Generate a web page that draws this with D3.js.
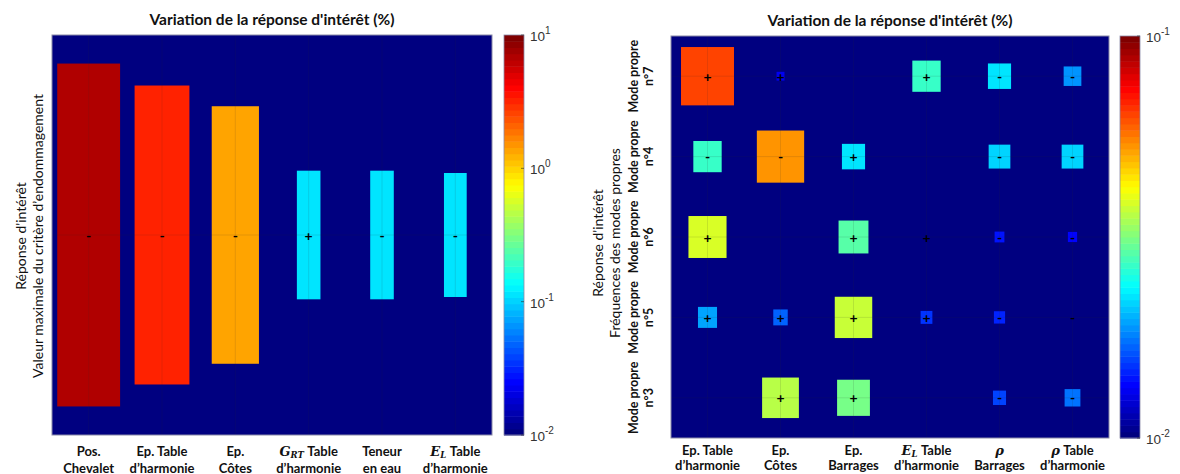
<!DOCTYPE html>
<html>
<head>
<meta charset="utf-8">
<script src="https://cdn.jsdelivr.net/npm/d3@7"></script>
<style>
  body { margin: 0; background: #fff; }
  text { font-family: Lato, "Open Sans", sans-serif; }
</style>
</head>
<body>
<svg id="chart" width="1180" height="474"></svg>
<script>
// ---- data ----
var titleText = "Variation de la réponse d'intérêt (%)";

// left panel: one row, six parameters
var leftCats = ["Pos.|Chevalet", "Ep. Table|d’harmonie", "Ep.|Côtes", "$G_{RT}$ Table|d’harmonie", "Teneur|en eau", "$E_{L}$ Table|d’harmonie"];
var leftRows = [""];
var leftValues = [[7.2, 3.1, 1.4, 0.118, 0.118, 0.108]];
var leftSigns = [["-", "-", "-", "+", "-", "-"]];
var leftTicks = [0.01, 0.1, 1, 10];
var leftYLabel = ["Réponse d'intérêt", "Valeur maximale du critère d’endommagement"];

// right panel: five modes x six parameters
var rightCats = ["Ep. Table|d’harmonie", "Ep.|Côtes", "Ep.|Barrages", "$E_{L}$ Table|d’harmonie", "$ρ$|Barrages", "$ρ$ Table|d’harmonie"];
var rightRows = ["Mode propre|n°7", "Mode propre|n°4", "Mode propre|n°6", "Mode propre|n°5", "Mode propre|n°3"];
var rightValues = [
  [0.0640, 0.0132, null,   0.0270, 0.0225, 0.0186],
  [0.0270, 0.0525, 0.0225, null,   0.0214, 0.0214],
  [0.0380, null,   0.0285, 0.0107, 0.0141, 0.0138],
  [0.0195, 0.0166, 0.0372, 0.0151, 0.0148, 0.0105],
  [null,   0.0363, 0.0316, null,   0.0158, 0.0174]
];
var rightSigns = [
  ["+", "+", "",  "+", "-", "-"],
  ["-", "-", "+", "",  "-", "-"],
  ["+", "",  "+", "+", "-", "-"],
  ["+", "+", "+", "+", "-", "-"],
  ["",  "+", "+", "",  "-", "-"]
];
var rightTicks = [0.01, 0.1];
var rightYLabel = ["Réponse d'intérêt", "Fréquences des modes propres"];

// ---- MATLAB jet colormap ----
function jet(t) {
  var c = function(v) { return Math.max(0, Math.min(1, v)); };
  var r = c(1.5 - Math.abs(4 * t - 3)),
      g = c(1.5 - Math.abs(4 * t - 2)),
      b = c(1.5 - Math.abs(4 * t - 1));
  return d3.rgb(r * 255, g * 255, b * 255).toString();
}
function jetq(t) {
  var i = Math.max(0, Math.min(63, Math.floor(t * 64)));
  return jet(i / 63);
}

var svg = d3.select("#chart");

// writes a label line, with $X_{sub}$ parts set in italic serif
function richLine(sel, str) {
  var parts = str.split(/(\$[^$]+\$)/);
  parts.forEach(function(p) {
    if (!p) return;
    if (p[0] == "$") {
      var m = p.slice(1, -1).match(/^([^_]+)(?:_\{(.+)\})?$/);
      sel.append("tspan").text(m[1])
        .style("font-family", "'DejaVu Serif', 'Liberation Serif', serif")
        .style("font-style", "italic").style("font-weight", "bold");
      if (m[2]) {
        sel.append("tspan").text(m[2]).attr("dy", 2)
          .style("font-family", "'DejaVu Serif', 'Liberation Serif', serif")
          .style("font-style", "italic").style("font-weight", "bold")
          .style("font-size", "8.5px");
        sel.append("tspan").text("\u200a").attr("dy", -2);
      }
    } else {
      sel.append("tspan").text(p);
    }
  });
}

function panel(o) {
  var x = d3.scaleBand().domain(o.cats).range([o.x0, o.x1]);
  var y = d3.scaleBand().domain(o.rows).range([o.y0, o.y1]);
  var t = d3.scaleLog().domain([o.ticks[0], o.ticks[o.ticks.length - 1]]).range([0, 1]).clamp(true);
  var g = svg.append("g");

  g.append("rect").attr("x", o.x0).attr("y", o.y0)
    .attr("width", o.x1 - o.x0).attr("height", o.y1 - o.y0)
    .attr("fill", jet(0));

  var cells = [];
  o.values.forEach(function(row, ri) {
    row.forEach(function(v, ci) {
      cells.push({ r: o.rows[ri], c: o.cats[ci], v: v, s: o.signs[ri][ci] });
    });
  });
  var filled = cells.filter(function(d) { return d.v != null; });

  g.selectAll("rect.cell").data(filled).enter().append("rect")
    .attr("class", "cell")
    .attr("x", function(d) { return x(d.c) + x.bandwidth() * (1 - 0.9 * t(d.v)) / 2; })
    .attr("y", function(d) { return y(d.r) + y.bandwidth() * (1 - 0.9 * t(d.v)) / 2; })
    .attr("width", function(d) { return x.bandwidth() * 0.9 * t(d.v); })
    .attr("height", function(d) { return y.bandwidth() * 0.9 * t(d.v); })
    .attr("fill", function(d) { return jetq(t(d.v)); });

  // faint grid through the cell centres
  g.selectAll("line.gx").data(o.cats).enter().append("line")
    .attr("x1", function(d) { return x(d) + x.bandwidth() / 2; })
    .attr("x2", function(d) { return x(d) + x.bandwidth() / 2; })
    .attr("y1", o.y0).attr("y2", o.y1)
    .attr("stroke", "#262626").attr("stroke-opacity", 0.12);
  g.selectAll("line.gy").data(o.rows).enter().append("line")
    .attr("y1", function(d) { return y(d) + y.bandwidth() / 2; })
    .attr("y2", function(d) { return y(d) + y.bandwidth() / 2; })
    .attr("x1", o.x0).attr("x2", o.x1)
    .attr("stroke", "#262626").attr("stroke-opacity", 0.12);

  g.selectAll("text.sign").data(filled).enter().append("text")
    .attr("class", "sign")
    .attr("x", function(d) { return x(d.c) + x.bandwidth() / 2; })
    .attr("y", function(d) { return y(d.r) + y.bandwidth() / 2; })
    .attr("text-anchor", "middle").attr("dominant-baseline", "central")
    .style("font-size", "14px").style("font-weight", "bold")
    .attr("fill", "#000")
    .text(function(d) { return d.s; });

  g.append("rect").attr("x", o.x0).attr("y", o.y0)
    .attr("width", o.x1 - o.x0).attr("height", o.y1 - o.y0)
    .attr("fill", "none").attr("stroke", "#8a8aa8").attr("stroke-width", 1);

  // title
  svg.append("text").attr("x", (o.x0 + o.x1) / 2).attr("y", o.y0 - 10)
    .attr("text-anchor", "middle")
    .style("font-size", "15.5px").style("font-weight", "bold").attr("fill", "#111")
    .text(titleText);

  // x labels
  o.cats.forEach(function(c) {
    c.split("|").forEach(function(line, li) {
      var tx = svg.append("text")
        .attr("x", x(c) + x.bandwidth() / 2)
        .attr("y", o.y1 + o.xly + li * o.xls)
        .attr("text-anchor", "middle")
        .style("font-size", "13px").style("font-weight", "bold").attr("fill", "#111");
      richLine(tx, line);
    });
  });

  // row labels (rotated)
  o.rows.forEach(function(r) {
    if (!r) return;
    var cy = y(r) + y.bandwidth() / 2;
    r.split("|").forEach(function(line, li) {
      svg.append("text")
        .attr("transform", "translate(" + (o.x0 - 38 + li * 15) + "," + cy + ") rotate(-90)")
        .attr("text-anchor", "middle").attr("dominant-baseline", "central")
        .style("font-size", "12.5px").style("font-weight", "bold").attr("fill", "#111")
        .text(line);
    });
  });

  // y axis titles
  o.yLabel.forEach(function(line, li) {
    svg.append("text")
      .attr("transform", "translate(" + (o.ylx + li * 17) + "," + o.yly + ") rotate(-90)")
      .attr("text-anchor", "middle").attr("dominant-baseline", "central")
      .style("font-size", "14px").attr("fill", "#111")
      .text(line);
  });

  // colorbar, 64 bands like MATLAB
  var bands = d3.range(64);
  var cb = d3.scaleBand().domain(bands).range([o.y1, o.y0]);
  svg.append("g").selectAll("rect").data(bands).enter().append("rect")
    .attr("x", o.cbx).attr("width", 20)
    .attr("y", function(d) { return cb(d); })
    .attr("height", cb.bandwidth() + 0.5)
    .attr("fill", function(d) { return jet(d / 63); });
  svg.append("rect").attr("x", o.cbx).attr("y", o.y0).attr("width", 20).attr("height", o.y1 - o.y0)
    .attr("fill", "none").attr("stroke", "#8a8aa8").attr("stroke-width", 0.8);

  var cs = d3.scaleLog().domain([o.ticks[0], o.ticks[o.ticks.length - 1]]).range([o.y1, o.y0]);
  o.ticks.forEach(function(tk) {
    var ty = cs(tk);
    svg.append("line").attr("x1", o.cbx + 17).attr("x2", o.cbx + 20)
      .attr("y1", ty).attr("y2", ty).attr("stroke", "#262626").attr("stroke-width", 0.6);
    var lab = svg.append("text").attr("x", o.cbx + 26).attr("y", ty + 6)
      .style("font-family", "'Liberation Sans', Arial, sans-serif")
      .style("font-size", "13.5px").attr("fill", "#333");
    lab.append("tspan").text("10");
    lab.append("tspan").text(Math.round(Math.log10(tk)))
      .attr("dy", -7).style("font-size", "10px");
  });
}

panel({
  cats: leftCats, rows: leftRows, values: leftValues, signs: leftSigns, ticks: leftTicks,
  yLabel: leftYLabel, x0: 52, x1: 492, y0: 35, y1: 435, cbx: 504, ylx: 20, yly: 236, xly: 21, xls: 16.5
});
panel({
  cats: rightCats, rows: rightRows, values: rightValues, signs: rightSigns, ticks: rightTicks,
  yLabel: rightYLabel, x0: 671, x1: 1109, y0: 36, y1: 438, cbx: 1120, ylx: 597, yly: 243, xly: 16.5, xls: 15.5
});
</script>
</body>
</html>
